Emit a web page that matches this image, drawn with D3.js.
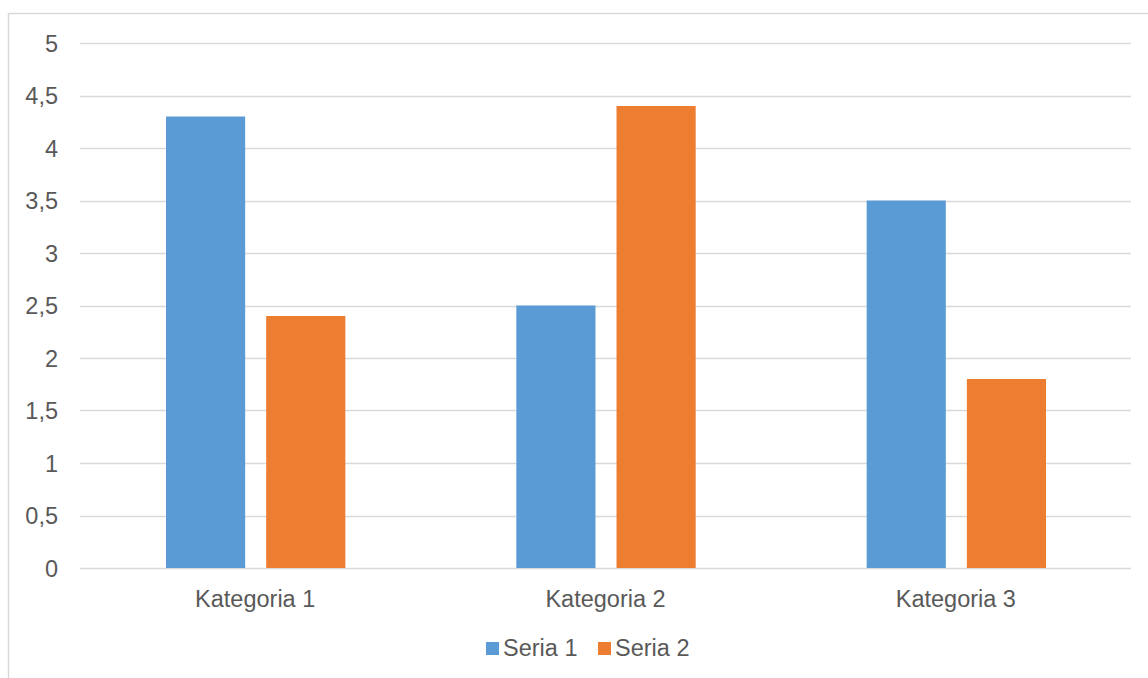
<!DOCTYPE html>
<html><head><meta charset="utf-8">
<script src="https://cdn.jsdelivr.net/npm/d3@7/dist/d3.min.js"></script>
<style>body{margin:0;background:#fff;}svg{display:block;font-family:"Liberation Sans",Arial,sans-serif;}</style>
</head><body><svg id="c" width="1148" height="678"></svg>
<script>
const categories = ["Kategoria 1", "Kategoria 2", "Kategoria 3"];
const seriesNames = ["Seria 1", "Seria 2"];
const seria1 = [4.3, 2.5, 3.5];
const seria2 = [2.4, 4.4, 1.8];
const yTicks = [0, 0.5, 1, 1.5, 2, 2.5, 3, 3.5, 4, 4.5, 5];
const colors = ["#5b9bd5", "#ed7d31"];

(function () {
const svg = d3.select("#c");
const pL = 80, pR = 1131, pT = 43, pB = 568;
const FS = 23.5;
svg.append("rect").attr("x", 8.5).attr("y", 13.5).attr("width", 1160).attr("height", 700)
  .attr("fill", "none").attr("stroke", "#d9d9d9").attr("stroke-width", 1.5);

const y = d3.scaleLinear().domain([0, 5]).range([pB, pT]);
const x0 = d3.scaleBand().domain(categories).range([pL, pR]).paddingInner(0).paddingOuter(0);
const x1 = d3.scaleBand().domain(seriesNames).range([86, x0.bandwidth() - 85]).paddingInner(0.21);

const fmt = v => String(v).replace(".", ",");
const g = svg.append("g");
yTicks.forEach(t => {
  g.append("line").attr("x1", pL).attr("x2", pR).attr("y1", Math.round(y(t)) + 0.5).attr("y2", Math.round(y(t)) + 0.5)
    .attr("stroke", "#d9d9d9").attr("stroke-width", 1.5);
});
const yAxis = d3.axisLeft(y).tickValues(yTicks).tickFormat(fmt).tickSize(0).tickPadding(0);
const ya = svg.append("g").attr("transform", `translate(58,0)`).call(yAxis);
ya.attr("font-size", FS).attr("font-family", "Liberation Sans, Arial, sans-serif");
ya.select(".domain").remove();
ya.selectAll("text").attr("fill", "#595959").attr("dy", "0.36em");

const data = categories.map((c, i) => ({c, vals: [seria1[i], seria2[i]]}));
const cg = svg.selectAll(".cat").data(data).join("g").attr("transform", d => `translate(${x0(d.c)},0)`);
cg.selectAll("rect").data(d => d.vals.map((v, j) => ({s: seriesNames[j], v, j})))
  .join("rect").attr("x", d => x1(d.s)).attr("width", x1.bandwidth())
  .attr("y", d => y(d.v)).attr("height", d => y(0) - y(d.v)).attr("fill", d => colors[d.j]);

const xAxis = d3.axisBottom(x0).tickSize(0).tickPadding(0);
const xa = svg.append("g").attr("transform", `translate(0,607)`).call(xAxis);
xa.attr("font-size", FS).attr("font-family", "Liberation Sans, Arial, sans-serif");
xa.select(".domain").remove();
xa.selectAll("text").attr("fill", "#595959").attr("dy", 0);

const legX = [486, 598];
seriesNames.forEach((s, i) => {
  svg.append("rect").attr("x", legX[i]).attr("y", 642).attr("width", 13).attr("height", 13).attr("fill", colors[i]);
  svg.append("text").attr("x", legX[i] + 17).attr("y", 656).attr("font-size", FS).attr("fill", "#595959").text(s);
});
})();
</script></body></html>
